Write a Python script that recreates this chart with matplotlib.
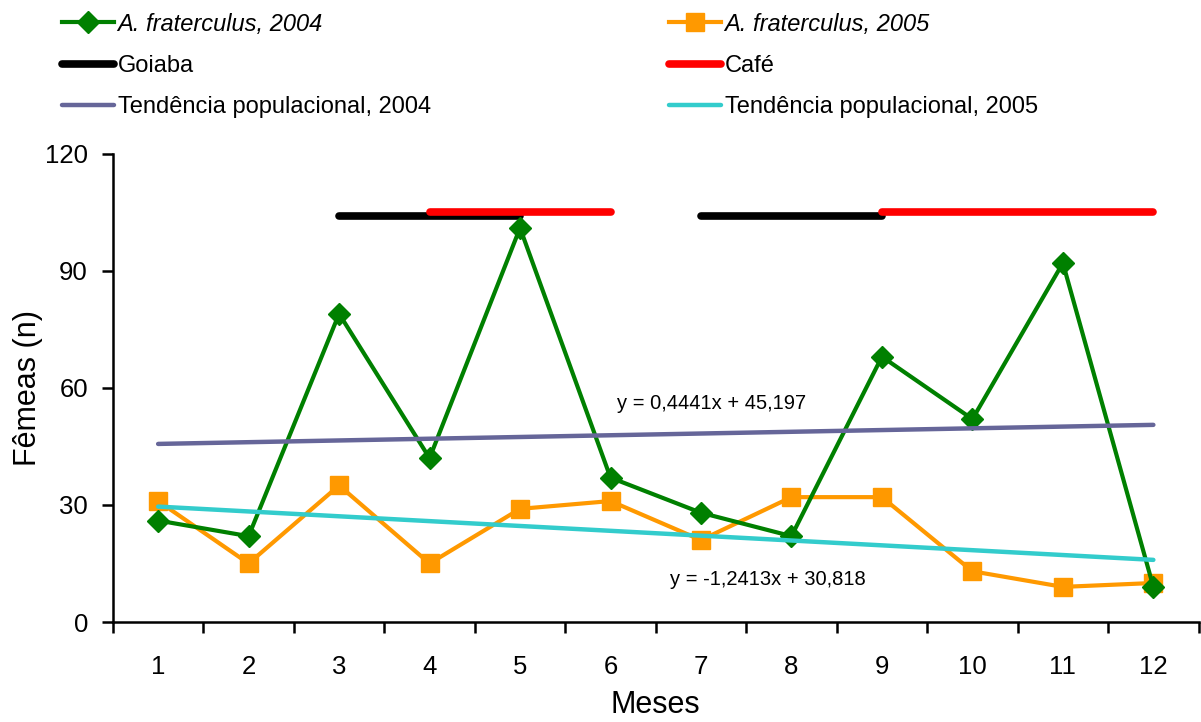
import numpy as np
import matplotlib

matplotlib.use("Agg")
import matplotlib.pyplot as plt
from matplotlib.lines import Line2D

plt.rcParams["font.family"] = ["Liberation Sans", "DejaVu Sans"]

MONTHS = np.arange(1, 13)
FEMALES_2004 = [26, 22, 79, 42, 101, 37, 28, 22, 68, 52, 92, 9]
FEMALES_2005 = [31, 15, 35, 15, 29, 31, 21, 32, 32, 13, 9, 10]

TREND_2004 = (0.4441, 45.197)
TREND_2005 = (-1.2413, 30.818)

# fruiting periods (month start, month end)
GOIABA = [(3, 5), (7, 9)]
GOIABA_Y = 104
CAFE = [(4, 6), (9, 12)]
CAFE_Y = 105

GREEN = "#008000"
ORANGE = "#ff9900"
PURPLE = "#666699"
CYAN = "#33cccc"


def main():
    fig = plt.figure(figsize=(12.01, 7.22), dpi=100)
    ax = fig.add_axes([0.094, 0.1385, 0.904, 0.6485])

    for x0, x1 in GOIABA:
        ax.plot([x0, x1], [GOIABA_Y, GOIABA_Y], color="black", lw=5.5,
                solid_capstyle="round", zorder=2)
    for x0, x1 in CAFE:
        ax.plot([x0, x1], [CAFE_Y, CAFE_Y], color="red", lw=5.5,
                solid_capstyle="round", zorder=2)

    ax.plot(MONTHS, FEMALES_2004, color=GREEN, lw=3, marker="D", ms=11.5,
            zorder=4)
    ax.plot(MONTHS, FEMALES_2005, color=ORANGE, lw=3, marker="s", ms=13,
            zorder=3)

    xs = np.array([1, 12])
    ax.plot(xs, TREND_2004[0] * xs + TREND_2004[1], color=PURPLE, lw=3.2,
            solid_capstyle="round", zorder=5)
    ax.plot(xs, TREND_2005[0] * xs + TREND_2005[1], color=CYAN, lw=3.2,
            solid_capstyle="round", zorder=5)

    ax.text(7.12, 56, "y = 0,4441x + 45,197", fontsize=14.5, ha="center",
            va="center")
    ax.text(7.74, 11, "y = -1,2413x + 30,818", fontsize=14.5, ha="center",
            va="center")

    ax.set_xlim(0.5, 12.5)
    ax.set_ylim(0, 120)
    ax.set_yticks([0, 30, 60, 90, 120])
    ax.set_xticks(MONTHS)
    ax.set_xticks(np.arange(0.5, 13.0, 1.0), minor=True)
    ax.tick_params(axis="x", which="major", length=0, pad=24, labelsize=18.5)
    ax.tick_params(axis="x", which="minor", length=8, width=1.8,
                   direction="out")
    ax.tick_params(axis="y", length=8, width=1.8, labelsize=18.5, pad=10)
    for side in ("top", "right"):
        ax.spines[side].set_visible(False)
    for side in ("left", "bottom"):
        ax.spines[side].set_linewidth(1.8)

    ax.set_xlabel("Meses", fontsize=22, labelpad=8)
    fig.text(28 / 1201, 1 - 388 / 722, "Fêmeas (n)", fontsize=22,
             rotation=90, ha="center", va="center")

    handles = [
        Line2D([], [], color=GREEN, lw=3, marker="D", ms=11.5),
        Line2D([], [], color="black", lw=5.5, solid_capstyle="round"),
        Line2D([], [], color=PURPLE, lw=3.2, solid_capstyle="round"),
        Line2D([], [], color=ORANGE, lw=3, marker="s", ms=13),
        Line2D([], [], color="red", lw=5.5, solid_capstyle="round"),
        Line2D([], [], color=CYAN, lw=3.2, solid_capstyle="round"),
    ]
    labels = [
        "A. fraterculus, 2004",
        "Goiaba",
        "Tendência populacional, 2004",
        "A. fraterculus, 2005",
        "Café",
        "Tendência populacional, 2005",
    ]
    leg = fig.legend(handles, labels, ncol=2, loc="upper left",
                     bbox_to_anchor=(0.034, 1.012), frameon=False,
                     fontsize=17, handlelength=2.2, handletextpad=0.15,
                     columnspacing=10.1, labelspacing=0.82)
    for i in (0, 3):
        leg.get_texts()[i].set_style("italic")

    fig.savefig("out.png", dpi=100, facecolor="white")
    plt.close(fig)


if __name__ == "__main__":
    main()
